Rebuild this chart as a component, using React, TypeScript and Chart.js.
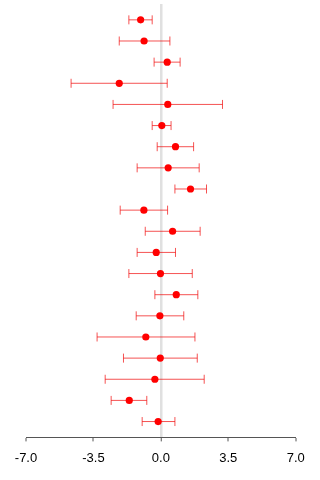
import React, { useEffect, useRef } from "react";
import { Chart, registerables } from "chart.js";

Chart.register(...registerables);

// Study estimates (top to bottom) with lower / upper interval bounds
const estimates = [
  -1.05, -0.87, 0.33, -2.16, 0.36, 0.05, 0.76, 0.38, 1.54, -0.88,
  0.61, -0.24, -0.02, 0.8, -0.05, -0.78, -0.03, -0.31, -1.64, -0.14,
];
const lower = [
  -1.66, -2.16, -0.35, -4.66, -2.48, -0.45, -0.19, -1.23, 0.73, -2.11,
  -0.81, -1.23, -1.66, -0.31, -1.28, -3.31, -1.94, -2.89, -2.58, -0.97,
];
const upper = [
  -0.45, 0.47, 1.0, 0.33, 3.2, 0.53, 1.7, 1.99, 2.37, 0.35,
  2.04, 0.76, 1.63, 1.92, 1.19, 1.77, 1.89, 2.25, -0.73, 0.73,
];
const xTicks = [-7, -3.5, 0, 3.5, 7];

const errorBars = {
  id: "errorBars",
  beforeDatasetsDraw(chart: any) {
    const { ctx, scales } = chart;
    const xs = scales.x;
    const ys = scales.y;
    ctx.save();
    ctx.strokeStyle = "rgba(240,0,0,0.68)";
    ctx.lineWidth = 1;
    const cap = 4.5;
    estimates.forEach((_, i) => {
      const y = ys.getPixelForValue(i);
      const x1 = xs.getPixelForValue(lower[i]);
      const x2 = xs.getPixelForValue(upper[i]);
      ctx.beginPath();
      ctx.moveTo(x1, y);
      ctx.lineTo(x2, y);
      ctx.moveTo(x1, y - cap);
      ctx.lineTo(x1, y + cap);
      ctx.moveTo(x2, y - cap);
      ctx.lineTo(x2, y + cap);
      ctx.stroke();
    });
    ctx.restore();
  },
};

export default function App() {
  const ref = useRef<HTMLCanvasElement>(null);

  useEffect(() => {
    if (!ref.current) return;
    const chart = new Chart(ref.current, {
      type: "scatter",
      data: {
        datasets: [
          {
            data: estimates.map((v, i) => ({ x: v, y: i })),
            backgroundColor: "#ff0000",
            borderColor: "#ff0000",
            pointRadius: 3.6,
            pointBorderWidth: 0,
          },
        ],
      },
      options: {
        responsive: false,
        animation: false,
        devicePixelRatio: 1,
        layout: { padding: { left: 26, right: 24.3, top: 0, bottom: 5 } },
        plugins: { legend: { display: false }, tooltip: { enabled: false } },
        scales: {
          x: {
            type: "linear",
            min: -7,
            max: 7,
            afterBuildTicks: (scale: any) => {
              scale.ticks = xTicks.map((v) => ({ value: v }));
            },
            border: { display: true, color: "#555555", width: 1 },
            grid: {
              drawOnChartArea: true,
              color: (c: any) => (c.tick && c.tick.value === 0 ? "#e0e0e0" : "rgba(0,0,0,0)"),
              lineWidth: (c: any) => (c.tick && c.tick.value === 0 ? 2.5 : 0),
              tickColor: "#555555",
              tickWidth: 1,
              tickLength: 4,
            },
            ticks: {
              color: "#000000",
              padding: 9,
              maxRotation: 0,
              font: { family: "'Liberation Sans', Arial, sans-serif", size: 13 },
              callback: (v: any) => Number(v).toFixed(1),
            },
          },
          y: {
            type: "linear",
            display: false,
            reverse: true,
            min: -0.75,
            max: 19.75,
          },
        },
      },
      plugins: [errorBars],
    });
    return () => chart.destroy();
  }, []);

  return (
    <div style={{ position: "fixed", left: 0, top: 0, width: 320, height: 480, background: "#fff" }}>
      <canvas ref={ref} width={320} height={480} style={{ display: "block" }} />
    </div>
  );
}
